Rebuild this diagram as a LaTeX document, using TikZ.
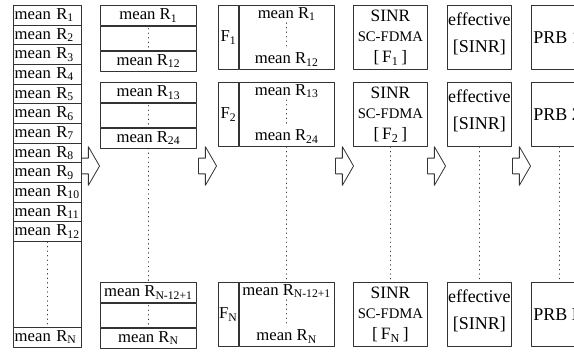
\documentclass[tikz,border=0pt]{standalone}
\usepackage{fontspec}
\setmainfont{Liberation Serif}
\usetikzlibrary{positioning,shapes.arrows}
\begin{document}
\begin{tikzpicture}[x=0.75pt, y=-0.75pt, font=\fontsize{12.5}{14}\selectfont, line join=round, line cap=round,
		box/.style={draw=black!80, line width=0.6pt, rectangle, inner sep=0pt, anchor=north west},
		rcell/.style={box, minimum width=51pt, minimum height=14.75pt, inner xsep=1pt, text width=49pt, align=left},
		scell/.style={box, minimum width=72pt, align=center},
		dots/.style={draw=black!80, line width=0.6pt, dash pattern=on 0.4pt off 3pt},
		blk/.style={single arrow, draw=black!80, fill=white, line width=0.6pt, anchor=tip, inner xsep=0pt, inner ysep=5.6pt,
			minimum width=0pt, minimum height=13.5pt, single arrow head extend=8.6pt, single arrow tip angle=120}]
		\useasboundingbox (0,0) rectangle (574,351);
		\clip (0,0) rectangle (574,351);
		% all values
		\foreach \i in {1,...,12}\node[rcell] (r\i) at (13,{5+(\i-1)*19.67}) {mean R\textsubscript{\i}};
		\node[box, minimum width=51pt, minimum height=64.5pt] (rgap) at (13,241) {};
		\node[rcell] (rN) at (13,327) {mean R\textsubscript{N}};
		\draw[dots] (r12.south) -- (rN.north);
		% groups of 12
		\foreach \g/\y/\a/\b in {1/5/1/12, 2/82/13/24, N/282/N-12+1/N}{
			\node[scell, minimum height=15pt] (st\g) at (100,\y) {mean R\textsubscript{\a}};
			\node[scell, minimum height=18pt, below=0pt of st\g] (sm\g) {};
			\node[scell, minimum height=15pt, below=0pt of sm\g] (sb\g) {mean R\textsubscript{\b}};
			\draw[dots, shorten <=2pt, shorten >=2pt] (sm\g.north) -- (sm\g.south);
			\node[box, minimum width=15pt, minimum height=48pt] (fl\g) at (218,\y) {F\textsubscript{\g}};
			\node[box, minimum width=71.25pt, minimum height=48pt, right=0pt of fl\g] (f\g) {};
			\node[anchor=north, inner sep=1.5pt] (ft\g) at (f\g.north) {mean R\textsubscript{\a}};
			\node[anchor=south, inner sep=2.5pt] (fb\g) at (f\g.south) {mean R\textsubscript{\b}};
			\draw[dots] (ft\g) -- (fb\g);
			\node[box, minimum width=55.5pt, minimum height=48pt, align=center, font=\fontsize{13}{15.5}\selectfont] (sinr\g) at (353,\y)
				{SINR\\{\fontsize{11}{15.5}\selectfont SC-FDMA}\\{}[\,F\textsubscript{\g}\,]};
			\node[box, minimum width=48pt, minimum height=48pt] (eff\g) at (447,\y) {};
			\node[align=center, inner sep=0pt, font=\fontsize{13.5}{20}\selectfont] (efft\g) at ([yshift=2.5pt]eff\g.center) {effective\\{}[SINR]};
			\node[box, minimum width=42pt, minimum height=48pt] (prb\g) at (531,\y) {};
			\node[anchor=west, inner sep=0pt, font=\fontsize{13.5}{15}\selectfont] (prbt\g) at ([xshift=1.5pt]prb\g.west) {PRB \g};
		}
		\draw[dots] (sb2.south) -- (stN.north);
		\draw[dots] (f2.south) -- (fN.north);
		\draw[dots] (sinr2.south) -- (sinrN.north);
		\draw[dots] (eff2.south) -- (effN.north);
		\draw[dots] (prb2.south) -- (prbN.north);
		% block arrows
		\foreach \t [count=\k] in {100,217,354,446,531}\node[blk] (arr\k) at (\t,166) {};
\end{tikzpicture}
\end{document}
